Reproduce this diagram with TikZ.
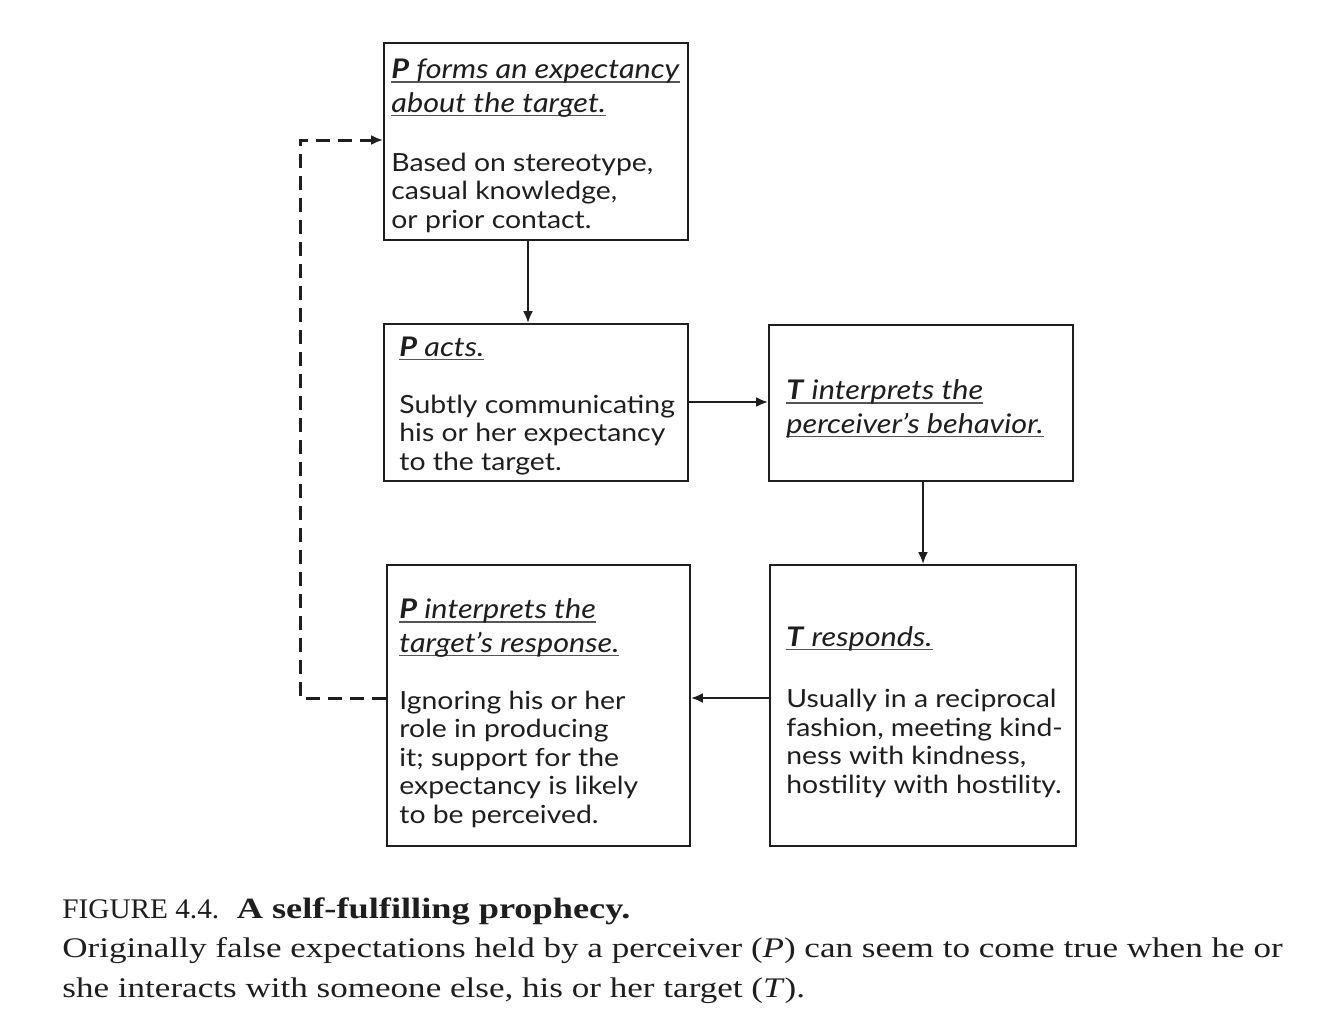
\documentclass[tikz,border=0pt]{standalone}
\usepackage{fontspec}
\setmainfont{Liberation Serif}
\newfontfamily\boxfont[FakeStretch=1.135]{Lato}
\newfontfamily\capfont[FakeStretch=1.235]{Liberation Serif}
\newfontfamily\figfont[FakeStretch=1.03]{Liberation Serif}
\usetikzlibrary{arrows.meta,fit}
\definecolor{ink}{HTML}{1E1E1E}
\definecolor{ulgray}{HTML}{555555}
\newcommand\myul[1]{\setbox0\hbox{#1}\rlap{\textcolor{ulgray}{\rule[-2pt]{\wd0}{0.6pt}}}\box0}
\newcommand\ttl[2]{\myul{\textbf{\textit{#1}}\textit{#2}}}
\tikzset{
  box/.style={draw=ink, line width=0.85pt, inner sep=0pt},
  ttltext/.style={anchor=base west, inner sep=0pt, align=left, text=ink,
     font=\boxfont\fontsize{13.5pt}{16.75pt}\selectfont},
  bodytext/.style={anchor=base west, inner sep=0pt, align=left, text=ink,
     font=\boxfont\fontsize{12.5pt}{14.25pt}\selectfont},
  flow/.style={draw=ink, line width=1.4pt, -{Latex[length=6pt,width=5pt]}},
  back/.style={draw=ink, line width=1.5pt, dash pattern=on 7pt off 4pt, -{Latex[length=6pt,width=5pt]}},
  captext/.style={anchor=base west, inner sep=0pt, text=ink, font=\capfont\fontsize{14.2pt}{19pt}\selectfont}
}
\begin{document}
\begin{tikzpicture}[x=0.5pt,y=-0.5pt]
\useasboundingbox (0,0) rectangle (1338,1034);
% boxes
\node[box, fit={(384,43) (688,240)}] (b1) {};
\node[box, fit={(384,324) (688,481)}] (b2) {};
\node[box, fit={(769,325) (1073,481)}] (b3) {};
\node[box, fit={(387,565) (690,846)}] (b4) {};
\node[box, fit={(770,565) (1076,846)}] (b5) {};
% texts (anchored at the baseline of the last line)
\node[ttltext] (t1) at (391,112) {\ttl{P}{ forms an expectancy}\\\ttl{}{about the target.}};
\node[bodytext] (d1) at (391,228) {Based on stereotype,\\casual knowledge,\\or prior contact.};
\node[ttltext] (t2) at (399,356) {\ttl{P}{ acts.}};
\node[bodytext] (d2) at (399,470) {Subtly communicating\\his or her expectancy\\to the target.};
\node[ttltext] (t3) at (786,433) {\ttl{T}{ interprets the}\\\ttl{}{perceiver’s behavior.}};
\node[ttltext] (t4) at (399,652) {\ttl{P}{ interprets the}\\\ttl{}{target’s response.}};
\node[bodytext] (d4) at (399,823) {Ignoring his or her\\role in producing\\it; support for the\\expectancy is likely\\to be perceived.};
\node[ttltext] (t5) at (786,646) {\ttl{T}{ responds.}};
\node[bodytext] (d5) at (786,793) {Usually in a reciprocal\\fashion, meeting kind-\\ness with kindness,\\hostility with hostility.};
% connectors
\draw[flow] (b1.south -| 528,0) -- (b2.north -| 528,0);
\draw[flow] (b2.east |- 0,402) -- (b3.west |- 0,402);
\draw[flow] (b3.south -| 923,0) -- (b5.north -| 923,0);
\draw[flow] (b5.west |- 0,698) -- (b4.east |- 0,698);
\coordinate (c1) at (300,698);
\coordinate (c2) at (300,140);
\draw[back] (b4.west |- 0,698) -- (c1) -- (c2) -- (b1.west |- 0,140);
% caption
\node[captext] (cap1) at (62,918) {{\figfont FIGURE 4.4.}\ \ {\fontsize{14.7pt}{19pt}\selectfont\bfseries A self-fulfilling prophecy.}};
\node[captext] (cap2) at (62,957) {Originally false expectations held by a perceiver (\textit{P}) can seem to come true when he or};
\node[captext] (cap3) at (62,997) {she interacts with someone else, his or her target (\textit{T}).};
\end{tikzpicture}
\end{document}
